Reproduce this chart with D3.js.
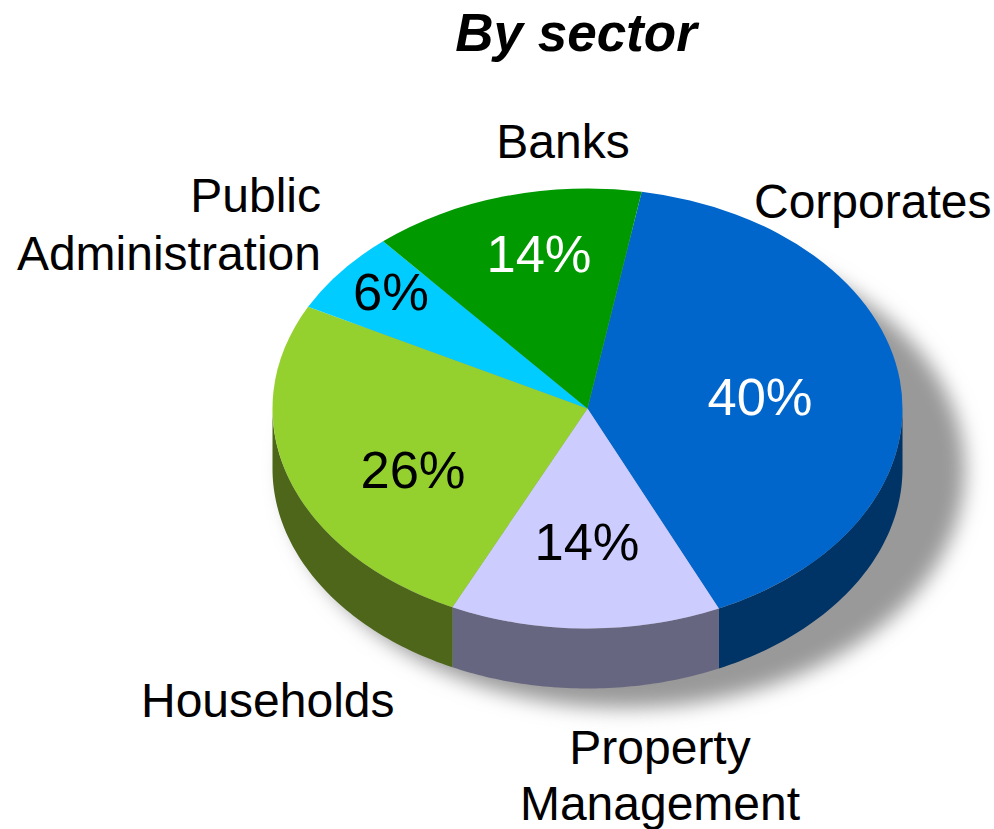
<!DOCTYPE html>
<html><head><meta charset="utf-8">
<script src="https://cdn.jsdelivr.net/npm/d3@7/dist/d3.min.js"></script>
<style>html,body{margin:0;padding:0;background:#fff}svg{display:block}text{font-family:"Liberation Sans",Arial,sans-serif}</style>
</head><body><svg id="c" width="994" height="829"></svg>
<script>
const categories = ["Corporates","Property Management","Households","Public Administration","Banks"];
const values = [40.4,13.9,25.6,6.1,14.0];
const topColors = ["#0066cc","#ccccff","#94d12e","#00ccff","#009900"];
const sideColors = ["#003366","#666680","#4d6619","#007a99","#005c00"];
const pctColors = ["#fff","#000","#000","#000","#fff"];
const pctPos = [[760,415],[587,560],[413,488],[391,310],[539,272]];
const labelLines = [["Corporates"],["Property","Management"],["Households"],["Public","Administration"],["Banks"]];
const labelPos = [[754,218,"start",0],[660,764,"middle",56],[141,717,"start",0],[321,212,"end",58],[563,158,"middle",0]];
const title = "By sector";

const cx=587.5, cy=408.5, rx=315, ry=220, depth=60;
const svg=d3.select("#c");
const defs=svg.append("defs");
defs.append("filter").attr("id","blur").attr("x","-20%").attr("y","-20%").attr("width","140%").attr("height","140%")
  .append("feGaussianBlur").attr("stdDeviation",10);

const start=9.9*Math.PI/180;
const pie=d3.pie().sort(null).startAngle(start).endAngle(start+2*Math.PI)(values);
const xs=d3.scaleLinear().domain([-1,1]).range([cx-rx,cx+rx]);
const ys=d3.scaleLinear().domain([-1,1]).range([cy-ry,cy+ry]);
const px=a=>xs(Math.sin(a)), py=a=>ys(-Math.cos(a));

// shadow
svg.append("ellipse").attr("filter","url(#blur)")
  .attr("cx",625).attr("cy",470).attr("rx",340).attr("ry",238).attr("fill","#999999");

// side walls (front half only)
const line=d3.line();
pie.forEach((d,i)=>{
  const a0=Math.max(d.startAngle,Math.PI/2), a1=Math.min(d.endAngle,3*Math.PI/2);
  if(a1<=a0) return;
  const ts=d3.range(0,61).map(k=>a0+(a1-a0)*k/60);
  const top=ts.map(t=>[px(t),py(t)]);
  const bottom=ts.slice().reverse().map(t=>[px(t),py(t)+depth]);
  svg.append("path").attr("d",line(top.concat(bottom))+"Z").attr("fill",sideColors[i]);
});

// top faces
const arc=d3.arc().innerRadius(0).outerRadius(1);
const topG=svg.append("g").attr("transform",`translate(${cx},${cy}) scale(${rx},${ry})`);
topG.selectAll("path").data(pie).join("path").attr("d",arc).attr("fill",(d,i)=>topColors[i]);

// percentages
svg.selectAll("text.pct").data(values).join("text").attr("class","pct")
  .attr("x",(d,i)=>pctPos[i][0]).attr("y",(d,i)=>pctPos[i][1]).attr("text-anchor","middle")
  .attr("font-size",52.5).attr("fill",(d,i)=>pctColors[i]).text(d=>Math.round(d)+"%");

// labels
labelLines.forEach((ls,i)=>{
  const [x,y,anchor,lh]=labelPos[i];
  ls.forEach((s,j)=>svg.append("text").attr("x",x).attr("y",y+j*lh).attr("text-anchor",anchor)
    .attr("font-size",48).attr("fill","#000").text(s));
});

svg.append("text").attr("x",576).attr("y",51).attr("text-anchor","middle").attr("font-size",53)
  .attr("font-weight","bold").attr("font-style","italic").text(title);
</script></body></html>
